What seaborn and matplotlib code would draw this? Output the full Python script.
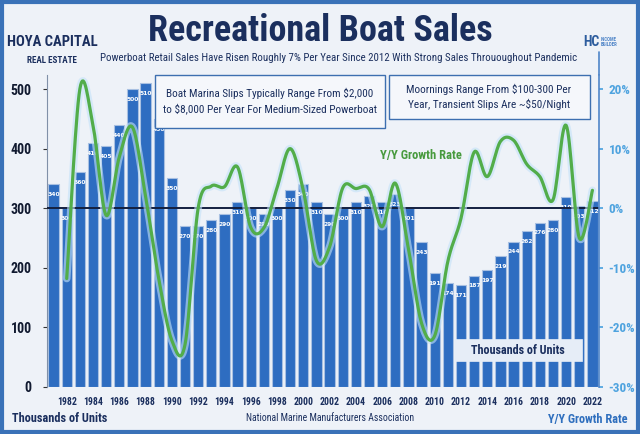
import numpy as np
import pandas as pd
import matplotlib
matplotlib.use("Agg")
import matplotlib.pyplot as plt
import seaborn as sns
from matplotlib import font_manager
from matplotlib.patches import Rectangle

# ---------------- data ----------------
years = list(range(1981, 2023))
units = [340, 300, 360, 410, 405, 440, 500, 510, 450, 350,
         270, 270, 280, 290, 310, 300, 290, 300, 330, 340,
         310, 290, 300, 310, 320, 310, 323, 301, 243, 191,
         174, 171, 187, 197, 219, 244, 262, 276, 280, 319,
         303, 312]
growth_years = list(range(1982, 2023))
growth_pct = [-11.8, 20.0, 13.9, -1.2, 8.6, 13.6, 2.0, -11.8, -22.2, -22.9,
              0.0, 3.7, 3.6, 6.9, -3.2, -3.3, 3.4, 10.0, 3.0, -8.8,
              -6.5, 3.4, 3.3, 3.2, -3.1, 4.2, -6.8, -19.3, -21.4, -8.9,
              -1.7, 9.4, 5.3, 11.2, 11.4, 7.4, 5.3, 1.4, 13.9, -5.0,
              3.0]
xtick_years = list(range(1982, 2023, 2))
left_ticks = [0, 100, 200, 300, 400, 500]
right_ticks = [-30, -20, -10, 0, 10, 20]

# ---------------- fonts ----------------
def pick(cands):
    for c in cands:
        try:
            font_manager.findfont(font_manager.FontProperties(family=c), fallback_to_default=False)
            return c
        except Exception:
            pass
    return "DejaVu Sans"

NARROW = pick(["Liberation Sans Narrow", "Roboto Condensed", "Open Sans Condensed", "Roboto", "Lato"])
sns.set_theme(style="white")
plt.rcParams["font.family"] = [NARROW, "DejaVu Sans"]

NAVY = "#1b2f5e"
BAR = "#2e6dc1"
BG = "#eef2f8"
GREEN = "#52ad4a"
LBLUE = "#4ea3df"

fig = plt.figure(figsize=(6.4, 4.34), dpi=100, facecolor=BG)
ax = fig.add_axes([47/640, 1-387/434, (599-47)/640, (387-75)/434])
ax.set_facecolor(BG)

df = pd.DataFrame({"year": [str(y) for y in years], "units": units})
sns.barplot(data=df, x="year", y="units", color=BAR, width=0.78, saturation=1,
            edgecolor="#a8c0e2", linewidth=0.8, ax=ax)
ax.set_xlim(-0.5, len(years) - 0.5)
ytop = (387 - 75) / 0.596
ax.set_ylim(0, ytop)

for i, v in enumerate(units):
    ax.annotate(str(v), (i, v), xytext=(0, -7.5), textcoords="offset points",
                ha="center", va="center", fontsize=4.3, color="white", fontweight="bold",
                family=["DejaVu Sans"])

ax.axhline(300, color="#142040", lw=1.4, zorder=4)

# x ticks
pos = [years.index(y) for y in xtick_years]
ax.set_xticks(pos)
ax.set_xticklabels([str(y) for y in xtick_years], fontsize=7, fontweight="bold", color=NAVY)
ax.tick_params(axis="x", length=0, pad=7)
ax.set_yticks(left_ticks)
ax.set_yticklabels([str(t) for t in left_ticks], fontsize=10, fontweight="bold", color="#111a30")
ax.tick_params(axis="y", length=3, width=0.8, color="#333", pad=8, left=True)
ax.set_xlabel("")
ax.set_ylabel("")
for s in ["top", "bottom", "right"]:
    ax.spines[s].set_visible(False)
ax.spines["left"].set_color("#8090a8")
ax.spines["left"].set_linewidth(0.8)

# growth line (Catmull-Rom smoothing for drawing)
ax2 = ax.twinx()
gx = np.array([years.index(y) for y in growth_years], dtype=float)
gy = np.array(growth_pct, dtype=float)
P = np.column_stack([gx, gy])
Pext = np.vstack([P[0], P, P[-1]])
sx, sy = [], []
ts = np.linspace(0, 1, 16, endpoint=False)
for k in range(1, len(Pext) - 2):
    p0, p1, p2, p3 = Pext[k-1], Pext[k], Pext[k+1], Pext[k+2]
    for t in ts:
        t2, t3 = t*t, t*t*t
        pt = 0.5 * ((2*p1) + (-p0 + p2)*t + (2*p0 - 5*p1 + 4*p2 - p3)*t2 + (-p0 + 3*p1 - 3*p2 + p3)*t3)
        sx.append(pt[0]); sy.append(pt[1])
sx.append(P[-1, 0]); sy.append(P[-1, 1])
ldf = pd.DataFrame({"x": sx, "y": sy})
sns.lineplot(data=ldf, x="x", y="y", color="#c4e2f8", lw=5.5, alpha=0.6, sort=False, ax=ax2,
             solid_capstyle="round")
sns.lineplot(data=ldf, x="x", y="y", color=GREEN, lw=2.3, sort=False, ax=ax2,
             solid_capstyle="round")
ax2.set_ylim(-30, (ytop - 300) / 10)
ax2.set_xlim(-0.5, len(years) - 0.5)
ax2.set_yticks(right_ticks)
ax2.set_yticklabels([f"{t}%" for t in right_ticks], fontsize=9.5, fontweight="bold", color=LBLUE)
ax2.tick_params(axis="y", length=3, color=LBLUE, pad=4, right=True)
ax2.set_xlabel(""); ax2.set_ylabel("")
for s in ["top", "bottom", "left"]:
    ax2.spines[s].set_visible(False)
ax2.spines["right"].set_color("#4f85c8")
ax2.spines["right"].set_linewidth(1.2)

# vertical line from HC logo down to axis
fig.add_artist(plt.Line2D([599/640, 599/640], [1-75/434, 1-52/434], color="#4f85c8", lw=1.2))

# annotation boxes (figure coords)
def fbox(x0, y0, x1, y1, fc, ec, lw):
    r = Rectangle((x0/640, 1-y1/434), (x1-x0)/640, (y1-y0)/434, transform=fig.transFigure,
                  facecolor=fc, edgecolor=ec, lw=lw, zorder=5)
    fig.add_artist(r)

fbox(155, 75, 385, 128, "#f5f7fb", "#3d6fb0", 1.0)
fig.text(270/640, 1-101/434, "Boat Marina Slips Typically Range From $2,000\nto $8,000 Per Year For Medium-Sized Powerboat",
         ha="center", va="center", fontsize=8.1, color=NAVY, linespacing=1.5, zorder=6)
fbox(389, 75, 590, 119, "#f5f7fb", "#3d6fb0", 1.0)
fig.text(489/640, 1-97/434, "Moornings Range From $100-300 Per\nYear, Transient Slips Are ~$50/Night",
         ha="center", va="center", fontsize=8.1, color=NAVY, linespacing=1.5, zorder=6)

fig.text(421/640, 1-155/434, "Y/Y Growth Rate", ha="center", va="center", fontsize=9,
         fontweight="bold", color="#479a3d")

fbox(455, 339, 582, 361, "#e6edf7", "#e6edf7", 0.5)
fig.text(518/640, 1-350/434, "Thousands of Units", ha="center", va="center", fontsize=8.7,
         fontweight="bold", color=NAVY, zorder=6)

# titles
fig.text(320/640, 1-31/434, "Recreational Boat Sales", ha="center", va="center", fontsize=26,
         fontweight="bold", color=NAVY)
fig.text(339/640, 1-58/434, "Powerboat Retail Sales Have Risen Roughly 7% Per Year Since 2012 With Strong Sales Thrououghout Pandemic",
         ha="center", va="center", fontsize=7.8, color=NAVY)

# logos as text
fig.text(52/640, 1-42/434, "HOYA CAPITAL", ha="center", va="center", fontsize=10.5,
         fontweight="bold", color=NAVY)
fig.text(52/640, 1-60/434, "REAL ESTATE", ha="center", va="center", fontsize=6.5,
         fontweight="bold", color=NAVY)
fig.text(599/640, 1-42/434, "HC", ha="right", va="center", fontsize=10, fontweight="bold", color="#2d5d9e")
fig.text(601/640, 1-42/434, "INCOME\nBUILDER", ha="left", va="center", fontsize=3.5,
         fontweight="bold", color="#4f85c8", linespacing=1.1)

# footer
fig.text(12/640, 1-419/434, "Thousands of Units", ha="left", va="center", fontsize=8.8,
         fontweight="bold", color=NAVY)
fig.text(330/640, 1-418/434, "National Marine Manufacturers Association", ha="center", va="center",
         fontsize=7, color=NAVY)
fig.text(627/640, 1-419/434, "Y/Y Growth Rate", ha="right", va="center", fontsize=8.8,
         fontweight="bold", color="#2f6fbe")

# outer border
fig.add_artist(Rectangle((0.003, 0.004), 0.994, 0.992, transform=fig.transFigure,
                         facecolor="none", edgecolor="#3a72b8", lw=3, zorder=10))

fig.savefig("out.png", dpi=100, facecolor=BG)
